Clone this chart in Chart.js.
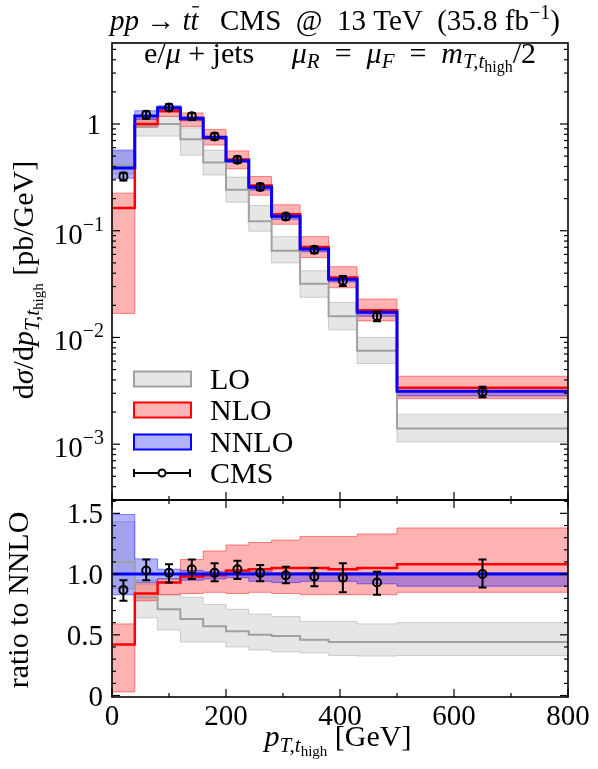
<!DOCTYPE html>
<html>
<head>
<meta charset="utf-8">
<script src="https://cdn.jsdelivr.net/npm/chart.js@4.4.0/dist/chart.umd.min.js"></script>
<style>
  body { margin: 0; background: #fff; }
  #wrap { position: relative; width: 598px; height: 769px; }
  #wrap canvas { position: absolute; left: 0; top: 0; }
</style>
</head>
<body>
<div id="wrap">
  <canvas id="main" width="598" height="769"></canvas>
  <canvas id="ratio" width="598" height="769"></canvas>
</div>
<script>
// bins in p_T,t_high [GeV]
const edges = [0, 40, 80, 120, 160, 200, 240, 280, 330, 380, 430, 500, 800];
const binCenters = [20, 60, 100, 140, 180, 220, 260, 305, 355, 405, 465, 650];

// top panel: d sigma / d pT [pb/GeV]
const lo     = [0.41, 0.96, 1.00, 0.72, 0.435, 0.242, 0.123, 0.065, 0.0318, 0.0158, 0.0075, 0.0014];
const loLo   = [0.34, 0.77, 0.77, 0.51, 0.333, 0.185, 0.099, 0.050, 0.0238, 0.0118, 0.0057, 0.00105];
const loHi   = [0.55, 1.13, 1.18, 0.92, 0.57, 0.318, 0.172, 0.088, 0.0422, 0.0213, 0.0100, 0.00191];
const nlo    = [0.163, 1.00, 1.32, 1.11, 0.74, 0.465, 0.265, 0.143, 0.0705, 0.0365, 0.0180, 0.00338];
const nloLo  = [0.0168, 0.93, 1.18, 0.95, 0.635, 0.38, 0.215, 0.115, 0.056, 0.0292, 0.0143, 0.00267];
const nloHi  = [0.225, 1.10, 1.36, 1.27, 0.89, 0.56, 0.322, 0.175, 0.088, 0.046, 0.0229, 0.00433];
const nnlo   = [0.387, 1.19, 1.42, 1.13, 0.75, 0.453, 0.255, 0.137, 0.0675, 0.0352, 0.0172, 0.00314];
const nnloLo = [0.31, 1.11, 1.36, 1.07, 0.72, 0.438, 0.240, 0.128, 0.0635, 0.0331, 0.0158, 0.00283];
const nnloHi = [0.57, 1.33, 1.48, 1.16, 0.765, 0.462, 0.260, 0.138, 0.0682, 0.0356, 0.0174, 0.00317];
const cms    = [0.323, 1.22, 1.43, 1.18, 0.765, 0.463, 0.257, 0.136, 0.0663, 0.0340, 0.0158, 0.00309];
const cmsLo  = [0.296, 1.12, 1.33, 1.09, 0.71, 0.43, 0.239, 0.127, 0.0615, 0.0303, 0.0142, 0.00275];
const cmsHi  = [0.350, 1.32, 1.53, 1.27, 0.82, 0.495, 0.275, 0.145, 0.0710, 0.0377, 0.0175, 0.00345];

// bottom panel: ratio to NNLO
const rLo     = [1.10, 0.81, 0.71, 0.63, 0.57, 0.53, 0.50, 0.49, 0.46, 0.44, 0.44, 0.44];
const rLoLo   = [0.88, 0.64, 0.54, 0.44, 0.44, 0.40, 0.375, 0.36, 0.35, 0.33, 0.325, 0.33];
const rLoHi   = [1.43, 0.95, 0.83, 0.81, 0.75, 0.71, 0.67, 0.65, 0.61, 0.61, 0.59, 0.60];
const rNlo    = [0.42, 0.84, 0.93, 0.98, 0.99, 1.03, 1.04, 1.05, 1.05, 1.04, 1.05, 1.08];
const rNloLo  = [0.03, 0.78, 0.83, 0.84, 0.85, 0.84, 0.85, 0.84, 0.83, 0.83, 0.83, 0.85];
const rNloHi  = [0.59, 0.92, 0.96, 1.12, 1.19, 1.24, 1.26, 1.28, 1.31, 1.31, 1.33, 1.38];
const rNnlo   = [1, 1, 1, 1, 1, 1, 1, 1, 1, 1, 1, 1];
const rNnloLo = [0.83, 0.93, 0.96, 0.95, 0.96, 0.97, 0.94, 0.93, 0.94, 0.94, 0.92, 0.90];
const rNnloHi = [1.49, 1.125, 1.04, 1.03, 1.02, 1.02, 1.02, 1.01, 1.01, 1.01, 1.01, 1.01];
const rCms    = [0.87, 1.03, 1.01, 1.04, 1.01, 1.04, 1.01, 0.99, 0.98, 0.97, 0.93, 1.00];
const rCmsLo  = [0.78, 0.95, 0.93, 0.96, 0.94, 0.96, 0.94, 0.925, 0.90, 0.85, 0.83, 0.89];
const rCmsHi  = [0.95, 1.12, 1.08, 1.12, 1.09, 1.11, 1.075, 1.06, 1.05, 1.09, 1.02, 1.12];

// axis ticks
const xTickVals = [0, 100, 200, 300, 400, 500, 600, 700, 800];
const xTickLabels = ['0', '', '200', '', '400', '', '600', '', '800'];
const logExps = [0, -1, -2, -3];
const ratioTickVals = [0, 0.5, 1.0, 1.5];
const ratioTickLabels = ['0', '0.5', '1.0', '1.5'];

const SERIF = '"Liberation Serif", "DejaVu Serif", serif';
const C_LO = '#a0a0a0', C_NLO = '#ff0000', C_NNLO = '#0000ff';
const F_LO = 'rgba(128,128,128,0.2)', F_NLO = 'rgba(255,0,0,0.3)', F_NNLO = 'rgba(0,0,255,0.3)';
const E_LO = 'rgba(128,128,128,0.35)', E_NLO = 'rgba(255,0,0,0.45)', E_NNLO = 'rgba(0,0,255,0.45)';

function fnt(size, italic) { return (italic ? 'italic ' : '') + size + 'px ' + SERIF; }

// draw text made of styled pieces; a piece may carry an absolute x
function drawRich(ctx, parts, x, y, align) {
  let total = 0;
  for (const p of parts) { ctx.font = fnt(p.s, p.i); p.w = ctx.measureText(p.t).width; total += p.w; }
  let cx = align === 'center' ? x - total / 2 : (align === 'right' ? x - total : x);
  ctx.textAlign = 'left';
  ctx.textBaseline = 'alphabetic';
  for (const p of parts) {
    if (p.x !== undefined) cx = p.x;
    ctx.font = fnt(p.s, p.i);
    ctx.fillText(p.t, cx, y + (p.dy || 0));
    if (p.bar) {
      ctx.beginPath();
      ctx.lineWidth = 1.3;
      ctx.moveTo(cx + p.w * 0.2, y - p.s * 0.8);
      ctx.lineTo(cx + p.w * 1.05, y - p.s * 0.8);
      ctx.stroke();
    }
    cx += p.w;
  }
}

// histogram steps from bin values
function steps(vals) {
  const pts = vals.map((v, i) => ({ x: edges[i], y: v }));
  pts.push({ x: edges[edges.length - 1], y: vals[vals.length - 1] });
  return pts;
}

function histSets(c, lc, lw, f, e, hi, lower) {
  return [
    { data: steps(c), borderColor: lc, borderWidth: lw, stepped: 'before', pointRadius: 0, fill: false },
    { data: steps(hi), borderColor: e, borderWidth: 1, backgroundColor: f, stepped: 'before', pointRadius: 0, fill: '+1' },
    { data: steps(lower), borderColor: e, borderWidth: 1, stepped: 'before', pointRadius: 0, fill: false }
  ];
}

function buildDatasets(L, N, NN, pts) {
  const lo3 = histSets(L[0], C_LO, 2, F_LO, E_LO, L[1], L[2]);
  const nlo3 = histSets(N[0], C_NLO, 2.5, F_NLO, E_NLO, N[1], N[2]);
  const nnlo3 = histSets(NN[0], C_NNLO, 3, F_NNLO, E_NNLO, NN[1], NN[2]);
  // lower order is drawn on top
  lo3[0].order = 3; nlo3[0].order = 2; nnlo3[0].order = 1;
  lo3[1].order = lo3[2].order = 6;
  nlo3[1].order = nlo3[2].order = 5;
  nnlo3[1].order = nnlo3[2].order = 4;
  const cmsSet = {
    data: binCenters.map((x, i) => ({ x: x, y: pts[i] })),
    showLine: false, pointStyle: 'circle', pointRadius: 4, pointBorderWidth: 2,
    pointBorderColor: '#000', pointBackgroundColor: 'rgba(0,0,0,0)', order: 0
  };
  return [cmsSet].concat(nnlo3, nlo3, lo3);
}

const errPlugin = {
  id: 'errbars',
  afterDatasetsDraw(chart, args, opts) {
    const { ctx, scales } = chart;
    ctx.save();
    ctx.strokeStyle = '#000';
    ctx.lineWidth = 2;
    binCenters.forEach((c, i) => {
      const x = scales.x.getPixelForValue(c);
      const y1 = scales.y.getPixelForValue(opts.lo[i]);
      const y2 = scales.y.getPixelForValue(opts.hi[i]);
      ctx.beginPath();
      ctx.moveTo(x, y1); ctx.lineTo(x, y2);
      ctx.moveTo(x - 4, y1); ctx.lineTo(x + 4, y1);
      ctx.moveTo(x - 4, y2); ctx.lineTo(x + 4, y2);
      ctx.stroke();
    });
    ctx.restore();
  }
};

const framePlugin = {
  id: 'frame',
  afterDraw(chart, args, opts) {
    const { ctx, chartArea: a, scales } = chart;
    ctx.save();
    ctx.strokeStyle = '#000';
    ctx.lineWidth = 1.2;
    const seg = (x1, y1, x2, y2) => { ctx.beginPath(); ctx.moveTo(x1, y1); ctx.lineTo(x2, y2); ctx.stroke(); };
    xTickVals.forEach(t => {
      const x = scales.x.getPixelForValue(t);
      const len = t % 200 === 0 ? 8 : 4;
      seg(x, a.bottom, x, a.bottom - len);
      if (opts.topTicks) seg(x, a.top, x, a.top + len);
    });
    opts.yTicks.forEach(t => {
      const y = scales.y.getPixelForValue(t.v);
      const len = t.major ? 8 : 4;
      seg(a.left, y, a.left + len, y);
      seg(a.right, y, a.right - len, y);
    });
    ctx.lineWidth = 1.6;
    ctx.strokeRect(a.left, a.top, a.right - a.left, a.bottom - a.top);
    ctx.restore();
  }
};

const topText = {
  id: 'topText',
  afterDraw(chart) {
    const { ctx, scales } = chart;
    ctx.save();
    ctx.fillStyle = '#000';
    ctx.strokeStyle = '#000';
    // title
    drawRich(ctx, [
      { t: 'pp', i: true, s: 29 }, { t: ' \u2192 ', s: 29 }, { t: 't', i: true, s: 29 },
      { t: 't', i: true, s: 29, bar: true },
      { t: 'CMS  @  13 TeV  (35.8 fb', s: 29, x: 220 }, { t: '\u22121', s: 20, dy: -11 }, { t: ')', s: 29 }
    ], 110, 30, 'left');
    // process label in the frame
    drawRich(ctx, [
      { t: 'e/', s: 30 }, { t: '\u03bc', i: true, s: 30 }, { t: ' + jets     ', s: 30 },
      { t: '\u03bc', i: true, s: 30 }, { t: 'R', i: true, s: 21, dy: 5 }, { t: '  =  ', s: 30 },
      { t: '\u03bc', i: true, s: 30 }, { t: 'F', i: true, s: 21, dy: 5 }, { t: '  =  ', s: 30 },
      { t: 'm', i: true, s: 30 }, { t: 'T,t', i: true, s: 21, dy: 5 }, { t: 'high', s: 16, dy: 9 },
      { t: '/2', s: 30 }
    ], 340, 63, 'center');
    // log tick labels
    logExps.forEach(k => {
      const y = scales.y.getPixelForValue(Math.pow(10, k));
      if (k === 0) {
        drawRich(ctx, [{ t: '1', s: 29 }], 101, y + 10, 'right');
      } else {
        drawRich(ctx, [{ t: '10', s: 29 }, { t: '\u2212' + (-k), s: 20, dy: -13 }], 104, y + 13, 'right');
      }
    });
    // y title
    ctx.save();
    ctx.translate(33, 280);
    ctx.rotate(-Math.PI / 2);
    drawRich(ctx, [
      { t: 'd', s: 30 }, { t: '\u03c3', i: true, s: 30 }, { t: '/d', s: 30 }, { t: 'p', i: true, s: 30 },
      { t: 'T,t', i: true, s: 21, dy: 6 }, { t: 'high', s: 15, dy: 10 }, { t: ' [pb/GeV]', s: 30 }
    ], 0, 0, 'center');
    ctx.restore();
    // legend
    const rows = [
      { name: 'LO', f: F_LO, c: C_LO, y: 379 },
      { name: 'NLO', f: F_NLO, c: C_NLO, y: 410 },
      { name: 'NNLO', f: F_NNLO, c: C_NNLO, y: 442 }
    ];
    rows.forEach(r => {
      ctx.fillStyle = r.f;
      ctx.fillRect(134, r.y - 7.5, 57, 15);
      ctx.strokeStyle = r.c;
      ctx.lineWidth = 2;
      ctx.strokeRect(134, r.y - 7.5, 57, 15);
      ctx.fillStyle = '#000';
      drawRich(ctx, [{ t: r.name, s: 30 }], 210, r.y + 10, 'left');
    });
    ctx.strokeStyle = '#000';
    ctx.lineWidth = 2;
    ctx.beginPath();
    ctx.moveTo(134, 473); ctx.lineTo(190, 473);
    ctx.moveTo(134, 469); ctx.lineTo(134, 477);
    ctx.moveTo(190, 469); ctx.lineTo(190, 477);
    ctx.stroke();
    ctx.fillStyle = '#fff';
    ctx.beginPath(); ctx.arc(162, 473, 3.5, 0, Math.PI * 2); ctx.fill(); ctx.stroke();
    ctx.fillStyle = '#000';
    drawRich(ctx, [{ t: 'CMS', s: 30 }], 210, 483, 'left');
    ctx.restore();
  }
};

const ratioText = {
  id: 'ratioText',
  afterDraw(chart) {
    const { ctx, scales, chartArea: a } = chart;
    ctx.save();
    ctx.fillStyle = '#000';
    ratioTickVals.forEach((v, i) => {
      const y = scales.y.getPixelForValue(v);
      drawRich(ctx, [{ t: ratioTickLabels[i], s: 29 }], 103, y + 10, 'right');
    });
    xTickVals.forEach((v, i) => {
      if (!xTickLabels[i]) return;
      drawRich(ctx, [{ t: xTickLabels[i], s: 29 }], scales.x.getPixelForValue(v), a.bottom + 28, 'center');
    });
    drawRich(ctx, [
      { t: 'p', i: true, s: 30 }, { t: 'T,t', i: true, s: 21, dy: 6 }, { t: 'high', s: 15, dy: 10 },
      { t: ' [GeV]', s: 30 }
    ], 338, 746, 'center');
    ctx.save();
    ctx.translate(28, 600);
    ctx.rotate(-Math.PI / 2);
    drawRich(ctx, [{ t: 'ratio to NNLO', s: 30 }], 0, 0, 'center');
    ctx.restore();
    ctx.restore();
  }
};

// tick lists
const logTicks = [];
for (let k = -4; k <= 0; k++) {
  for (let m = 1; m <= 9; m++) {
    const v = m * Math.pow(10, k);
    if (v >= 3.05e-4 && v <= 5.74) logTicks.push({ v: v, major: m === 1 });
  }
}
const ratioTicks = [];
for (let j = 0; j <= 16; j++) ratioTicks.push({ v: j / 10, major: j % 5 === 0 });

const xScale = { type: 'linear', min: 0, max: 800, display: false };

new Chart(document.getElementById('main'), {
  type: 'line',
  data: { datasets: buildDatasets([lo, loHi, loLo], [nlo, nloHi, nloLo], [nnlo, nnloHi, nnloLo], cms) },
  options: {
    responsive: false,
    animation: false,
    layout: { padding: { left: 112, right: 30, top: 43, bottom: 269 } },
    scales: {
      x: xScale,
      y: { type: 'logarithmic', min: 3.05e-4, max: 5.74, display: false }
    },
    plugins: {
      legend: { display: false },
      tooltip: { enabled: false },
      errbars: { lo: cmsLo, hi: cmsHi },
      frame: { yTicks: logTicks, topTicks: false }
    }
  },
  plugins: [errPlugin, framePlugin, topText]
});

new Chart(document.getElementById('ratio'), {
  type: 'line',
  data: { datasets: buildDatasets([rLo, rLoHi, rLoLo], [rNlo, rNloHi, rNloLo], [rNnlo, rNnloHi, rNnloLo], rCms) },
  options: {
    responsive: false,
    animation: false,
    layout: { padding: { left: 112, right: 30, top: 500, bottom: 72 } },
    scales: {
      x: xScale,
      y: { type: 'linear', min: -0.012, max: 1.61, display: false }
    },
    plugins: {
      legend: { display: false },
      tooltip: { enabled: false },
      errbars: { lo: rCmsLo, hi: rCmsHi },
      frame: { yTicks: ratioTicks, topTicks: true }
    }
  },
  plugins: [errPlugin, framePlugin, ratioText]
});
</script>
</body>
</html>
